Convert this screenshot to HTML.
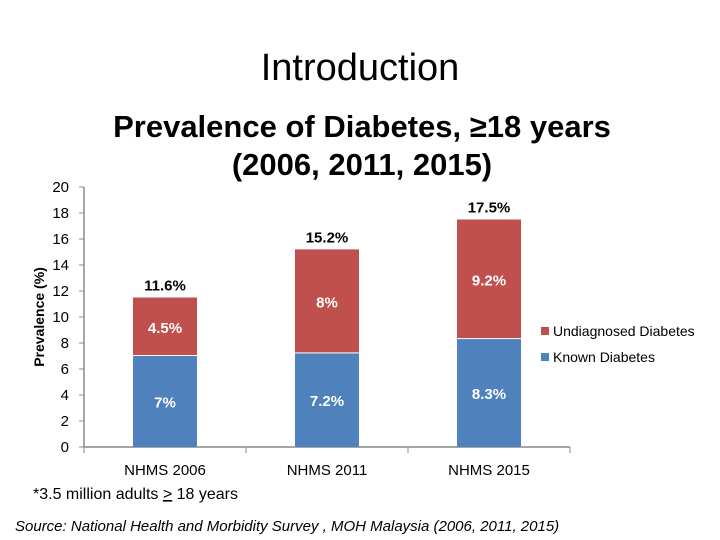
<!DOCTYPE html>
<html><head><meta charset="utf-8"><style>
body{margin:0;background:#fff;}
svg{display:block;font-family:"Liberation Sans","DejaVu Sans",sans-serif;}
</style></head><body>
<svg id="c" width="720" height="540">
<text x="360" y="80" text-anchor="middle" font-size="38" fill="#000">Introduction</text>
<text x="362" y="137" text-anchor="middle" font-size="31" font-weight="bold" fill="#000">Prevalence of Diabetes, ≥18 years</text>
<text x="362" y="175" text-anchor="middle" font-size="31" font-weight="bold" fill="#000">(2006, 2011, 2015)</text>
<text transform="translate(44,317) rotate(-90)" text-anchor="middle" font-size="14" font-weight="bold">Prevalence (%)</text>
<text x="33" y="499" font-size="16">*3.5 million adults <tspan text-decoration="underline">&gt;</tspan> 18 years</text>
<text x="15" y="531" font-size="15" font-style="italic">Source: National Health and Morbidity Survey , MOH Malaysia (2006, 2011, 2015)</text>
<g>
<rect x="541" y="327" width="8" height="8" fill="#c0504d"/>
<text x="553" y="336" font-size="14">Undiagnosed Diabetes</text>
<rect x="541" y="353" width="8" height="8" fill="#4f81bd"/>
<text x="553" y="362" font-size="14">Known Diabetes</text>
</g>
</svg>
<script>
const categories=["NHMS 2006","NHMS 2011","NHMS 2015"];
const known=[7,7.2,8.3];
const undiagnosed=[4.5,8,9.2];
const knownLabels=["7%","7.2%","8.3%"];
const undiagLabels=["4.5%","8%","9.2%"];
const totalLabels=["11.6%","15.2%","17.5%"];
const yTicks=[0,2,4,6,8,10,12,14,16,18,20];
const svg=document.getElementById('c');
const NS="http://www.w3.org/2000/svg";
const x0=84,x1=570,y0=447,yMax=20,plotH=260;
const y=v=>y0-v/yMax*plotH;
const band=(x1-x0)/categories.length;
const bw=64;
const xc=i=>x0+band*(i+0.5);
function mk(t,a){const e=document.createElementNS(NS,t);for(const k in a)e.setAttribute(k,a[k]);svg.appendChild(e);return e;}
let e=mk('line',{x1:x0,y1:y(yMax),x2:x0,y2:y0,stroke:'#888','stroke-width':1.5});


e=mk('line',{x1:x0,y1:y0,x2:x1,y2:y0,stroke:'#888','stroke-width':1.5});


yTicks.forEach(v=>{
 let t=mk('line',{x1:x0-5,y1:y(v),x2:x0,y2:y(v),stroke:'#888'});
 
 
 let l=mk('text',{x:69,y:y(v)+5,'text-anchor':'end','font-size':15,fill:'#000'});
 l.textContent=v;
 
 
});
for(let i=0;i<=categories.length;i++){
 let t=mk('line',{x1:x0+band*i,y1:y0,x2:x0+band*i,y2:y0+6,stroke:'#888'});
 
 
}
categories.forEach((c,i)=>{
 const cx=xc(i),bx=cx-bw/2;
 const kTop=y(known[i]),uTop=y(known[i]+undiagnosed[i]);
 let b=mk('rect',{x:bx,y:kTop,width:bw,height:y0-kTop,fill:'#4f81bd'});
 
 
 b=mk('rect',{x:bx,y:uTop,width:bw,height:kTop-uTop-1,fill:'#c0504d'});
 
 
 let t=mk('text',{x:cx,y:(kTop+y0)/2+6,'text-anchor':'middle','font-size':15,'font-weight':'bold',fill:'#fff'});
 t.textContent=knownLabels[i];
 
 
 t=mk('text',{x:cx,y:(uTop+kTop)/2+6,'text-anchor':'middle','font-size':15,'font-weight':'bold',fill:'#fff'});
 t.textContent=undiagLabels[i];
 
 
 t=mk('text',{x:cx,y:uTop-7,'text-anchor':'middle','font-size':15,'font-weight':'bold',fill:'#000'});
 t.textContent=totalLabels[i];
 
 
 t=mk('text',{x:cx,y:475,'text-anchor':'middle','font-size':15,fill:'#000'});
 t.textContent=c;
 
 
});
</script>
</body></html>
